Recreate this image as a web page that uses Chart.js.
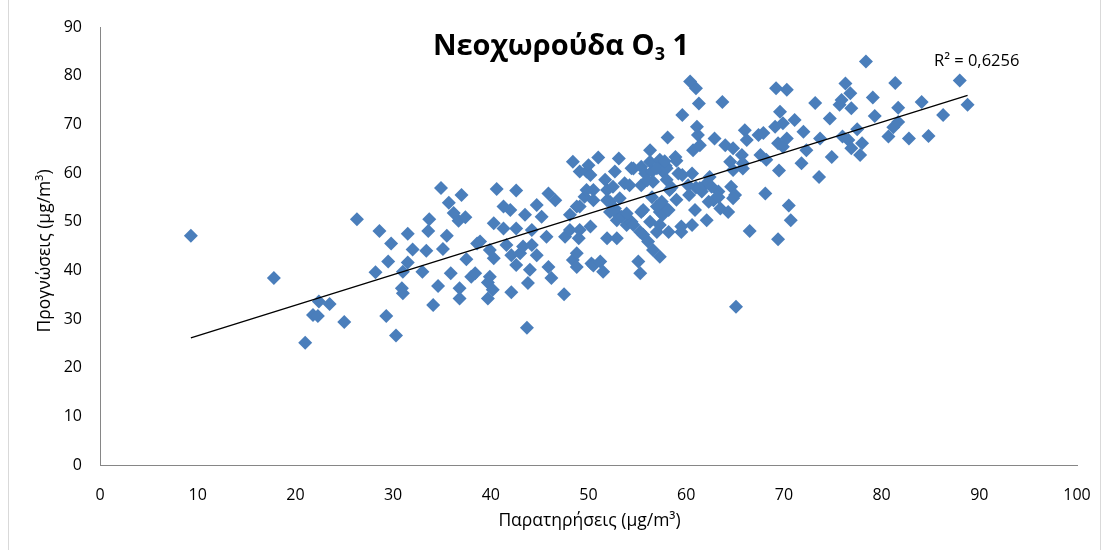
<!DOCTYPE html>
<html>
<head>
<meta charset="utf-8">
<script src="https://cdn.jsdelivr.net/npm/chart.js@4.4.1/dist/chart.umd.min.js"></script>
<style>
html,body{margin:0;padding:0;background:#fff;}
#c{display:block;}
</style>
</head>
<body>
<canvas id="c" width="1105" height="550"></canvas>
<script>
// Observed values (x) — Παρατηρήσεις
const observed = [
  9.3,17.8,21.0,21.8,22.3,22.4,23.5,25.0,26.3,28.2,
  28.6,29.8,29.5,29.3,30.3,30.9,31.0,31.5,31.5,31.0,
  32.0,33.0,33.4,33.7,33.6,34.1,34.6,34.9,35.1,35.5,
  35.7,35.9,36.2,36.7,36.8,36.8,37.0,37.4,37.5,38.0,
  38.4,38.6,38.9,39.9,39.9,39.7,39.7,40.2,40.3,40.3,
  40.6,41.3,41.3,41.6,42.0,42.1,42.1,42.6,42.6,42.6,
  43.0,43.3,43.5,43.7,43.8,44.0,44.2,44.2,44.7,44.7,
  45.2,45.7,45.9,45.9,46.2,46.6,47.5,47.6,48.1,48.1,
  48.4,48.4,48.8,48.8,48.8,49.0,49.1,49.1,49.6,49.8,
  50.0,50.2,50.2,50.3,50.5,50.5,51.0,51.2,51.5,51.7,
  51.9,51.9,52.2,52.5,52.7,52.7,52.9,52.9,52.9,53.1,
  53.4,53.7,53.9,54.2,54.4,54.4,54.6,54.6,55.1,55.3,
  55.3,55.4,55.4,55.4,55.6,55.6,55.8,56.1,56.3,56.3,
  56.3,56.5,56.6,56.6,57.0,57.3,57.3,57.3,57.3,57.6,
  57.6,57.6,57.9,58.0,58.1,58.2,58.2,58.3,58.9,59.2,
  59.5,59.5,59.6,59.6,60.2,60.4,60.6,60.6,60.7,60.9,
  61.0,61.1,61.0,61.2,61.3,61.4,61.6,62.1,62.1,62.4,
  62.8,62.9,63.3,63.5,63.7,64.0,64.3,64.5,64.6,64.8,
  65.0,65.1,65.7,65.8,66.0,66.2,66.5,67.4,67.6,67.9,
  68.1,68.2,69.1,69.2,69.4,69.4,69.5,69.6,69.9,69.9,
  70.3,70.3,70.5,70.7,71.1,71.8,72.0,72.3,73.2,73.6,
  73.7,74.7,74.9,75.7,75.9,76.0,76.3,76.6,76.8,76.9,
  76.9,77.5,77.8,78.0,78.4,79.1,79.3,80.7,81.2,81.4,
  81.7,81.7,82.8,84.1,84.8,86.3,88.0,88.8,61.4,62.6,
  63.3,64.8,64.8,65.8,49.8,50.5,49.1,51.9,53.2,52.2,
  53.9,57.0,57.5,62.3,56.5,58.5,59.0,60.3,59.0,57.0,
  58.0,56.0,57.8
];
// Forecast values (y) — Προγνώσεις
const forecast = [
  47.1,38.4,25.1,30.8,30.6,33.6,33.1,29.4,50.5,39.6,
  48.1,45.5,41.8,30.6,26.6,36.3,35.3,47.5,41.6,39.7,
  44.3,39.7,44.0,50.5,48.1,32.9,36.8,56.9,44.4,47.1,
  53.9,39.4,51.8,50.2,36.3,34.2,55.5,50.9,42.3,38.7,
  39.4,45.5,45.9,44.2,38.7,34.2,37.5,36.0,42.5,49.7,
  56.7,53.1,48.6,45.2,52.4,43.1,35.5,56.4,48.6,41.1,
  43.5,44.9,51.4,28.2,37.4,40.1,48.3,45.2,53.4,43.1,
  51.0,46.9,55.8,40.7,38.4,54.4,35.1,46.9,51.4,48.3,
  62.3,42.1,53.1,43.5,40.7,46.6,48.3,60.3,55.1,60.3,
  61.6,49.0,59.6,41.4,56.5,41.0,63.2,41.8,39.7,58.6,
  56.5,46.6,54.1,57.2,60.3,52.7,51.7,50.3,46.6,63.0,
  51.0,57.9,49.3,57.5,61.0,50.0,60.9,49.3,41.8,39.4,
  47.9,57.5,52.0,61.3,52.4,47.3,59.9,45.9,64.7,62.3,
  50.0,60.3,58.2,44.2,47.9,62.7,52.0,49.3,42.8,53.4,
  51.4,60.3,61.5,58.6,67.3,52.4,47.9,56.5,63.3,59.9,
  49.0,47.9,59.6,71.9,57.5,78.8,59.9,49.3,64.7,52.4,
  77.4,69.5,57.0,67.8,74.3,65.7,56.2,57.9,50.3,59.2,
  54.4,67.1,56.2,52.7,74.6,65.7,52.0,62.3,57.2,65.1,
  55.5,32.5,63.7,60.9,68.8,66.8,48.1,67.8,63.7,68.2,
  55.8,62.7,69.5,77.4,66.1,46.4,60.5,72.6,70.2,65.4,
  77.1,67.1,53.3,50.3,70.9,62.0,68.5,64.7,74.4,59.2,
  67.1,71.2,63.3,74.0,75.0,67.5,78.4,66.8,76.4,73.3,
  65.1,69.0,63.7,66.1,82.9,75.5,71.7,67.5,69.4,78.5,
  73.4,70.5,67.1,74.6,67.6,71.9,79.0,74.0,56.9,57.2,
  55.0,54.8,60.6,62.0,56.5,54.4,53.1,54.4,54.8,52.0,
  51.7,53.1,54.1,54.1,55.0,57.0,54.5,55.5,62.5,61.0,
  61.0,58.5,62.4
];
const xTicks = [0,10,20,30,40,50,60,70,80,90,100];
const yTicks = [0,10,20,30,40,50,60,70,80,90];
const chartTitle = 'Νεοχωρούδα O';
const titleSub = '3';
const titleTail = ' 1';
const xTitle = 'Παρατηρήσεις (μg/m³)';
const yTitle = 'Προγνώσεις (μg/m³)';
const r2Label = 'R² = 0,6256';

const points = observed.map((x, i) => ({x: x, y: forecast[i]}));

// Linear trendline (least squares) from the data
const n = observed.length;
const mx = observed.reduce((a,b)=>a+b,0)/n;
const my = forecast.reduce((a,b)=>a+b,0)/n;
let sxy = 0, sxx = 0;
for (let i = 0; i < n; i++) { sxy += (observed[i]-mx)*(forecast[i]-my); sxx += (observed[i]-mx)**2; }
const slope = sxy/sxx, intercept = my - slope*mx;
const xmin = Math.min(...observed), xmax = Math.max(...observed);
const trend = [{x:xmin, y:intercept+slope*xmin},{x:xmax, y:intercept+slope*xmax}];

const FONT = "'Open Sans', 'DejaVu Sans', sans-serif";

const overlay = {
  id: 'overlay',
  afterDraw(chart) {
    const ctx = chart.ctx;
    const xs = chart.scales.x;
    ctx.save();
    // outer border
    ctx.strokeStyle = '#d9d9d9';
    ctx.lineWidth = 1;
    ctx.strokeRect(8.5, -2, 1092, 553);
    // title
    ctx.fillStyle = '#000';
    ctx.textBaseline = 'alphabetic';
    const fMain = "bold 29px " + FONT, fSub = "bold 18px " + FONT;
    ctx.font = fMain; const w1 = ctx.measureText(chartTitle).width; const w3 = ctx.measureText(titleTail).width;
    ctx.font = fSub; const w2 = ctx.measureText(titleSub).width;
    let tx = 561 - (w1+w2+w3)/2; const ty = 55;
    ctx.textAlign = 'left';
    ctx.font = fMain; ctx.fillText(chartTitle, tx, ty); tx += w1;
    ctx.font = fSub; ctx.fillText(titleSub, tx, ty + 5); tx += w2;
    ctx.font = fMain; ctx.fillText(titleTail, tx, ty);
    // R2
    ctx.font = "16.5px " + FONT;
    ctx.textAlign = 'left';
    ctx.fillText(r2Label, 934, 66);
    // axis titles
    ctx.font = "17.5px " + FONT;
    ctx.textAlign = 'center';
    ctx.textBaseline = 'middle';
    ctx.fillText(xTitle, (xs.left + xs.right)/2 + 1, 521);
    ctx.translate(45, 251);
    ctx.rotate(-Math.PI/2);
    ctx.fillText(yTitle, 0, 0);
    ctx.restore();
  }
};

new Chart(document.getElementById('c'), {
  type: 'scatter',
  data: {
    datasets: [
      {
        type: 'scatter',
        data: points,
        pointStyle: 'rectRot',
        pointRadius: 7,
        pointHoverRadius: 7,
        backgroundColor: '#4a7ebb',
        borderColor: '#4a7ebb',
        borderWidth: 0,
        order: 2
      },
      {
        type: 'line',
        data: trend,
        borderColor: '#000',
        borderWidth: 1.3,
        pointRadius: 0,
        fill: false,
        order: 1
      }
    ]
  },
  options: {
    responsive: false,
    animation: false,
    devicePixelRatio: 1,
    layout: { padding: { left: 0, top: 27, right: 28, bottom: 0 } },
    plugins: { legend: { display: false }, tooltip: { enabled: false }, title: { display: false } },
    scales: {
      x: {
        type: 'linear', min: 0, max: 100,
        afterFit(s) { s.height = 85; },
        afterBuildTicks(s) { s.ticks = xTicks.map(v => ({value: v})); },
        grid: { display: false },
        border: { display: true, color: '#868686', width: 1 },
        ticks: { color: '#000', font: { family: FONT, size: 16 }, padding: 13, maxRotation: 0 }
      },
      y: {
        type: 'linear', min: 0, max: 90,
        afterFit(s) { s.width = 100; },
        afterBuildTicks(s) { s.ticks = yTicks.map(v => ({value: v})); },
        grid: { display: false },
        border: { display: true, color: '#868686', width: 1 },
        ticks: { color: '#000', font: { family: FONT, size: 16 }, padding: 10 }
      }
    }
  },
  plugins: [overlay]
});
</script>
</body>
</html>
